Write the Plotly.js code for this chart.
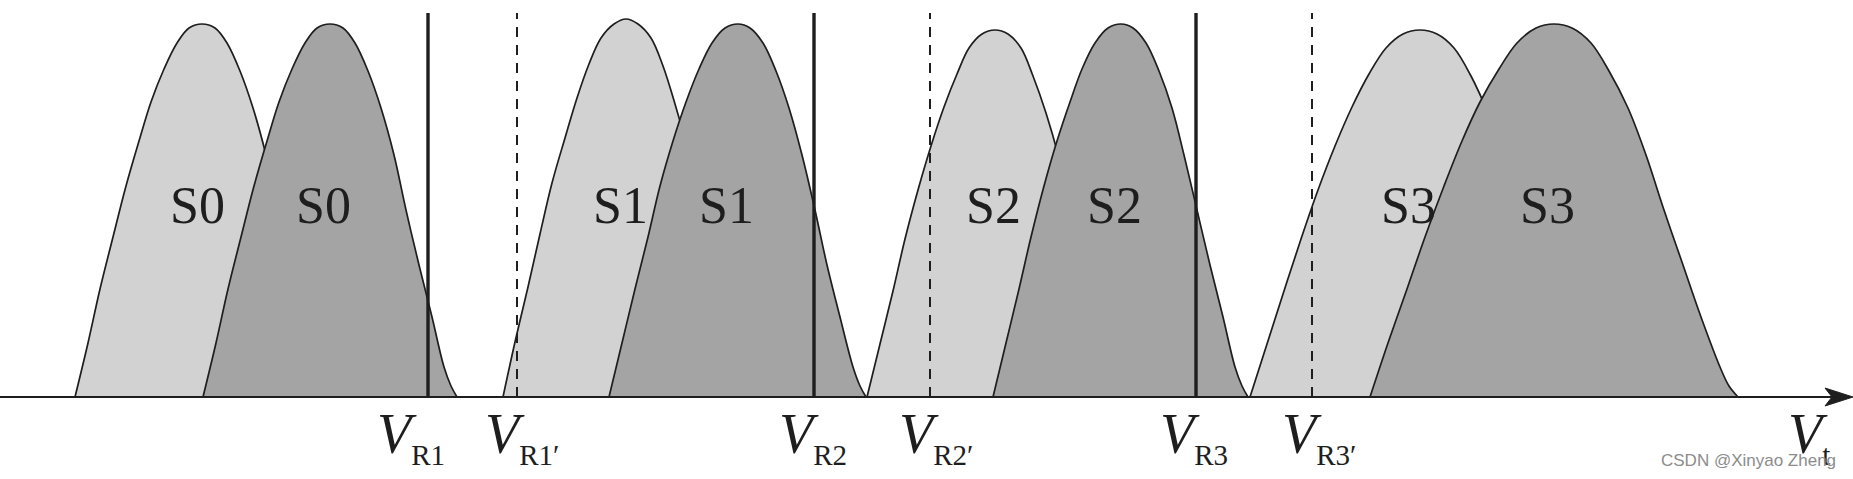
<!DOCTYPE html>
<html>
<head>
<meta charset="utf-8">
<script src="https://cdn.plot.ly/plotly-3.0.1.min.js"></script>
<style>
  html, body { margin: 0; padding: 0; background: #ffffff; }
  #chart { width: 1853px; height: 479px; }
</style>
</head>
<body>
<div id="chart"></div>
<script>
// ---- Data (x: threshold-voltage position, y: cell-count density) ----
const s0LightX = [75, 88, 100, 113, 126, 139, 151, 164, 177, 189, 202, 215, 227, 240, 253, 266, 278, 291, 304, 316, 323, 329];
const s0LightY = [0, 54, 108, 160, 211, 256, 295, 328, 354, 369, 373, 369, 354, 326, 289, 242, 187, 132, 80, 30, 11, 0];
const s0DarkX  = [203, 216, 228, 241, 254, 267, 279, 292, 305, 317, 330, 343, 355, 368, 381, 394, 406, 419, 432, 444, 451, 457];
const s0DarkY  = [0, 54, 108, 160, 211, 256, 295, 328, 354, 369, 373, 369, 354, 326, 289, 242, 187, 132, 80, 30, 11, 0];

const s1LightX = [503, 515, 528, 540, 552, 565, 577, 589, 601, 614, 626, 638, 651, 663, 675, 688, 700, 712, 724, 737, 743, 749];
const s1LightY = [0, 55, 110, 163, 214, 259, 299, 333, 359, 373, 378, 373, 359, 331, 293, 246, 189, 134, 81, 30, 11, 0];
const s1DarkX  = [609, 622, 635, 648, 660, 673, 686, 699, 712, 725, 738, 750, 763, 776, 789, 802, 815, 827, 840, 853, 860, 866];
const s1DarkY  = [0, 54, 108, 160, 211, 256, 295, 328, 354, 369, 373, 369, 354, 326, 289, 242, 187, 132, 80, 30, 11, 0];

const s2LightX = [867, 880, 893, 905, 918, 931, 944, 957, 969, 982, 995, 1008, 1021, 1033, 1046, 1059, 1072, 1085, 1097, 1110, 1117, 1123];
const s2LightY = [0, 53, 106, 158, 207, 251, 290, 323, 349, 363, 367, 363, 349, 321, 284, 239, 184, 130, 79, 29, 11, 0];
const s2DarkX  = [993, 1006, 1019, 1031, 1044, 1057, 1070, 1082, 1095, 1108, 1121, 1133, 1146, 1159, 1172, 1184, 1197, 1210, 1223, 1235, 1242, 1248];
const s2DarkY  = [0, 54, 108, 160, 211, 256, 295, 328, 354, 369, 373, 369, 354, 326, 289, 242, 187, 132, 80, 30, 11, 0];

const s3LightX = [1250, 1267, 1284, 1301, 1318, 1335, 1352, 1369, 1386, 1403, 1420, 1437, 1454, 1471, 1488, 1505, 1522, 1539, 1556, 1573, 1582, 1590];
const s3LightY = [0, 53, 106, 158, 207, 251, 290, 323, 349, 363, 367, 363, 349, 321, 284, 239, 184, 130, 79, 29, 11, 0];
const s3DarkX  = [1370, 1388, 1407, 1425, 1444, 1462, 1480, 1499, 1517, 1536, 1554, 1572, 1591, 1609, 1628, 1646, 1664, 1683, 1701, 1720, 1729, 1738];
const s3DarkY  = [0, 54, 108, 160, 211, 256, 295, 328, 354, 369, 373, 369, 354, 326, 289, 242, 187, 132, 80, 30, 11, 0];

const stateNames   = ["S0", "S1", "S2", "S3"];
const lightLabelX  = [197, 620, 993, 1408];
const darkLabelX   = [323, 726, 1114, 1547];
const stateLabelY  = 192;

const readRefX     = [428, 814, 1196];        // V_R1, V_R2, V_R3 (solid)
const shiftedRefX  = [517, 930, 1312];        // V_R1', V_R2', V_R3' (dashed)
const refLineTop   = 384;

const refLabelSub  = ["R1", "R1\u2032", "R2", "R2\u2032", "R3", "R3\u2032"];
const refLabelX    = [375, 483, 777, 897, 1158, 1280];
const refLabelY    = -40;

const axisLabelSub = "t";
const axisLabelX   = 1786;
const axisEndX     = 1853;

const watermark    = "CSDN @Xinyao Zheng";

// ---- Styles ----
const LIGHT = "#d2d2d2";
const DARK  = "#a5a4a5";
const INK   = "#1e1e1e";
const SERIF = "Liberation Serif, Times New Roman, serif";

const curves = [
  [s0LightX, s0LightY, LIGHT], [s0DarkX, s0DarkY, DARK],
  [s1LightX, s1LightY, LIGHT], [s1DarkX, s1DarkY, DARK],
  [s2LightX, s2LightY, LIGHT], [s2DarkX, s2DarkY, DARK],
  [s3LightX, s3LightY, LIGHT], [s3DarkX, s3DarkY, DARK]
];

const traces = curves.map(([x, y, c]) => ({
  type: "scatter", mode: "lines", x: x, y: y,
  fill: "tozeroy", fillcolor: c,
  line: { color: INK, width: 1.7, shape: "spline", smoothing: 1 },
  hoverinfo: "skip", showlegend: false
}));

readRefX.forEach(x => traces.push({
  type: "scatter", mode: "lines", x: [x, x], y: [0, refLineTop],
  line: { color: INK, width: 3.4 }, hoverinfo: "skip", showlegend: false
}));
shiftedRefX.forEach(x => traces.push({
  type: "scatter", mode: "lines", x: [x, x], y: [0, refLineTop],
  line: { color: INK, width: 2, dash: "10px,8px" }, hoverinfo: "skip", showlegend: false
}));

// horizontal axis line
traces.push({
  type: "scatter", mode: "lines", x: [0, axisEndX - 20], y: [0, 0],
  line: { color: INK, width: 2.2 }, hoverinfo: "skip", showlegend: false
});

const annotations = [];
stateNames.forEach((n, i) => {
  [lightLabelX[i], darkLabelX[i]].forEach(x => annotations.push({
    x: x, y: stateLabelY, xref: "x", yref: "y", text: n, showarrow: false,
    xanchor: "center", yanchor: "middle",
    font: { family: SERIF, size: 52, color: INK }
  }));
});
refLabelSub.forEach((s, i) => annotations.push({
  x: refLabelX[i], y: refLabelY, xref: "x", yref: "y",
  text: "<i>V</i><sub><span style=\"font-size:29px\">" + s + "</span></sub>",
  showarrow: false, xanchor: "left", yanchor: "middle",
  font: { family: SERIF, size: 56, color: INK }
}));
annotations.push({
  x: axisLabelX, y: refLabelY, xref: "x", yref: "y",
  text: "<i>V</i><sub><span style=\"font-size:29px\">" + axisLabelSub + "</span></sub>",
  showarrow: false, xanchor: "left", yanchor: "middle",
  font: { family: SERIF, size: 56, color: INK }
});
annotations.push({
  x: 1838, y: -63, xref: "x", yref: "y", text: watermark, showarrow: false,
  xanchor: "right", yanchor: "middle",
  font: { family: "Liberation Sans, Arial, sans-serif", size: 17, color: "#8c8c8c" }
});

const layout = {
  width: 1853, height: 479,
  margin: { l: 0, r: 0, t: 0, b: 0, pad: 0 },
  paper_bgcolor: "#ffffff", plot_bgcolor: "#ffffff",
  xaxis: { range: [0, 1853], visible: false, fixedrange: true },
  yaxis: { range: [-82, 397], visible: false, fixedrange: true },
  showlegend: false,
  annotations: annotations,
  shapes: [{
    type: "path", xref: "x", yref: "y",
    path: "M " + axisEndX + " 0 L " + (axisEndX - 28) + " 9 L " + (axisEndX - 21) + " 0 L " + (axisEndX - 28) + " -9 Z",
    fillcolor: INK, line: { color: INK, width: 1 }
  }]
};

Plotly.newPlot("chart", traces, layout, { staticPlot: true, displayModeBar: false });
</script>
</body>
</html>
